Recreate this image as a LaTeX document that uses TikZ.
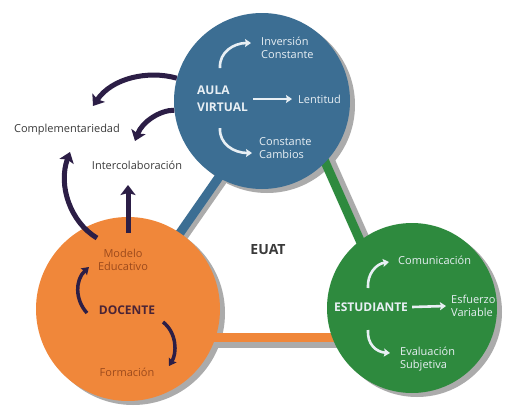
\documentclass[tikz,border=0pt]{standalone}
\usepackage{fontspec}
\setmainfont{Open Sans}
\usetikzlibrary{arrows.meta}
\definecolor{cblue}{HTML}{3C6E93}
\definecolor{corange}{HTML}{F0873A}
\definecolor{cgreen}{HTML}{2E8A3E}
\definecolor{cnavy}{HTML}{2C1E46}
\definecolor{cshadow}{HTML}{ABABAB}
\definecolor{cbrown}{HTML}{9C4A1C}
\definecolor{clight}{HTML}{E8EFF4}
\definecolor{ctext}{HTML}{3A3A3A}
\definecolor{cdoc}{HTML}{4A2436}
\begin{document}
\begin{tikzpicture}[x=1pt,y=-1pt,
  ball/.style={circle,inner sep=0pt,draw=none},
  bar/.style={line width=9pt},
  barshadow/.style={line width=9pt,cshadow},
  bignavy/.style={cnavy,line width=5pt,-{Stealth[inset=2pt,width=15pt,length=10pt]}},
  smallnavy/.style={cnavy,line width=3.5pt,-{Stealth[inset=1pt,width=9pt,length=7pt]}},
  whitearr/.style={clight,line width=2.6pt,-{Stealth[inset=1pt,width=8pt,length=6pt]}},
  lbl/.style={font=\fontsize{11}{13}\selectfont,inner sep=0pt},
  bold/.style={font=\fontsize{12}{15}\selectfont\bfseries,inner sep=0pt}
]
\useasboundingbox (0,0) rectangle (509,407);
\fill[white] (0,0) rectangle (509,407);

% circle positions
\coordinate (pa) at (262,101);
\coordinate (pd) at (128,309);
\coordinate (pe) at (412,308);

% circle shadows
\fill[cshadow] ([shift={(5,4)}]pa) circle[radius=88pt];
\fill[cshadow] ([shift={(5,4)}]pd) circle[radius=92pt];
\fill[cshadow] ([shift={(5,4)}]pe) circle[radius=85pt];

% bars (shadows then bars)
\draw[barshadow] ([shift={(16,0)}]pa) -- ([shift={(5,0)}]pd);
\draw[barshadow] ([shift={(42,0)}]pa) -- ([shift={(-16,0)}]pe);
\draw[barshadow] ([shift={(0,34)}]pd) -- ([shift={(0,35)}]pe);
\draw[bar,cblue] ([shift={(10,0)}]pa) -- ([shift={(-1,0)}]pd);
\draw[bar,cgreen] ([shift={(36,0)}]pa) -- ([shift={(-22,0)}]pe);
\draw[bar,corange] ([shift={(0,28)}]pd) -- ([shift={(0,29)}]pe);

% circles
\node[ball,fill=cblue,minimum size=176pt] (aula) at (pa) {};
\node[ball,fill=corange,minimum size=184pt] (doc) at (pd) {};
\node[ball,fill=cgreen,minimum size=170pt] (est) at (pe) {};

% AULA VIRTUAL texts
\node[bold,text=clight,align=left,anchor=west] (av) at (197,99) {AULA\\[2pt]VIRTUAL};
\node[lbl,text=clight,anchor=west] (lent) at (298,99) {Lentitud};
\node[lbl,text=clight,align=left,anchor=west] (inv) at (261,48) {Inversión\\Constante};
\node[lbl,text=clight,align=left,anchor=west] (cc) at (259,148) {Constante\\Cambios};
\draw[whitearr] ([xshift=5pt]av.east) -- ([xshift=-6pt]lent.west);
\coordinate (u1s) at (220,68);
\coordinate (u1e) at (251,43);
\coordinate (u2s) at (220,128);
\coordinate (u2e) at (252,153);
\draw[whitearr] (u1s) .. controls (219,52) and (234,43) .. (u1e);
\draw[whitearr] (u2s) .. controls (219,144) and (234,153) .. (u2e);

% outside texts
\node[lbl,text=ctext] (comp) at (67,130) {Complementariedad};
\node[lbl,text=ctext] (inter) at (137,165) {Intercolaboración};
\node[font=\fontsize{14}{16}\selectfont\bfseries,text=ctext,inner sep=0pt] (euat) at (268,250) {EUAT};

% navy arrows
\coordinate (t1) at (93,106);
\coordinate (t2) at (135,141);
\coordinate (s3) at (97,238);
\coordinate (t3) at (70,152);
\coordinate (s4) at (128,233);
\coordinate (t4) at (128,185);
\draw[bignavy] (aula.165) .. controls (148,70) and (112,78) .. (t1);
\draw[bignavy] (aula.186) .. controls (160,110) and (142,122) .. (t2);
\draw[bignavy] (s3) .. controls (70,222) and (58,185) .. (t3);
\draw[bignavy] (s4) -- (t4);

% DOCENTE
\node[lbl,text=cbrown,align=center] (mod) at (123,260) {Modelo\\Educativo};
\node[bold,text=cdoc] (docl) at (127,310) {DOCENTE};
\node[lbl,text=cbrown] (form) at (127,372) {Formación};
\coordinate (d1s) at (87,313);
\coordinate (d1e) at (89,267);
\coordinate (d2s) at (163,322);
\coordinate (d2e) at (169,366);
\draw[smallnavy] (d1s) .. controls (75,300) and (75,280) .. (d1e);
\draw[smallnavy] (d2s) .. controls (177,333) and (177,353) .. (d2e);

% ESTUDIANTE
\node[bold,text=clight] (estl) at (371,307) {ESTUDIANTE};
\node[lbl,text=clight,align=left,anchor=west] (esf) at (451,306) {Esfuerzo\\Variable};
\node[lbl,text=clight,anchor=west] (com) at (398,260) {Comunicación};
\node[lbl,text=clight,align=left,anchor=west] (eval) at (400,359) {Evaluación\\Subjetiva};
\draw[whitearr] ([xshift=4pt]estl.east) -- ([xshift=-5pt]esf.west);
\coordinate (g1s) at (368,288);
\coordinate (g1e) at (389,262);
\coordinate (g2s) at (368,330);
\coordinate (g2e) at (390,353);
\draw[whitearr] (g1s) .. controls (367,274) and (376,264) .. (g1e);
\draw[whitearr] (g2s) .. controls (367,344) and (376,352) .. (g2e);
\end{tikzpicture}
\end{document}
